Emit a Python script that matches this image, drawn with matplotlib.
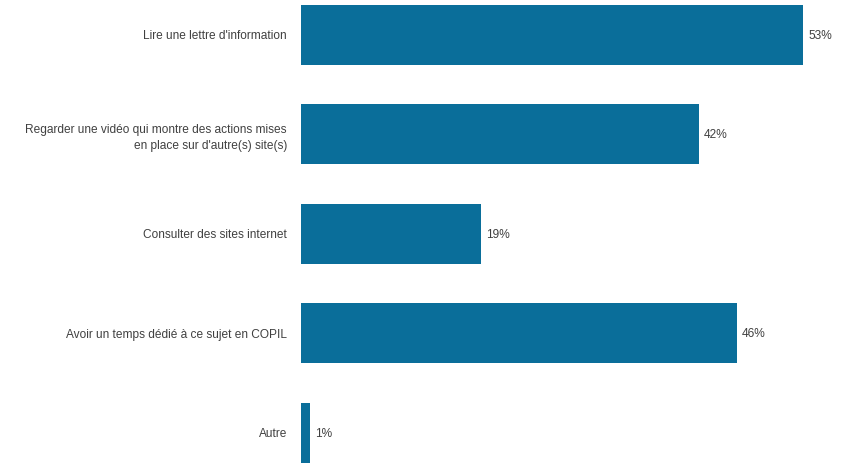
import numpy as np
from matplotlib import pyplot as plt

plt.rcParams['font.family'] = ['Liberation Sans', 'DejaVu Sans']

categories = [
    "Lire une lettre d'information",
    "Regarder une vidéo qui montre des actions mises\nen place sur d'autre(s) site(s)",
    "Consulter des sites internet",
    "Avoir un temps dédié à ce sujet en COPIL",
    "Autre",
]
values = [53, 42, 19, 46, 1]

bar_color = '#0a6e9a'
text_color = '#404040'

fig = plt.figure(figsize=(8.45, 4.63), dpi=100)
ax = fig.add_axes([0.356, 0.0, 0.617, 1.0])

y = np.arange(len(categories))
bars = ax.barh(y, values, height=0.6, color=bar_color)

for rect, v in zip(bars, values):
    ax.annotate(f"{v}%", (rect.get_width(), rect.get_y() + rect.get_height() / 2),
                xytext=(3.5, -0.5), textcoords='offset points',
                va='center', ha='left', fontsize=8.6, color=text_color)

ax.set_yticks(y)
ax.set_yticklabels(categories, fontsize=8.6, color=text_color, linespacing=1.45)
ax.tick_params(axis='y', length=0, pad=10)
ax.set_xticks([])
ax.set_xlim(0, 55)
ax.set_ylim(4.303, -0.35)
for s in ax.spines.values():
    s.set_visible(False)

fig.savefig('out.png', dpi=100)
